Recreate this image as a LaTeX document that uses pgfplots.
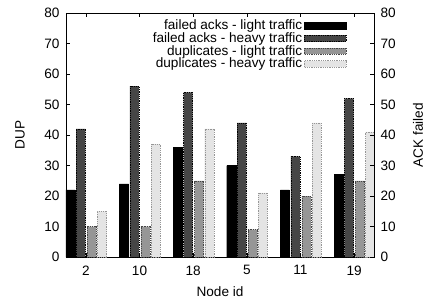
\documentclass[border=0pt]{standalone}
\usepackage{pgfplots}
\pgfplotsset{compat=1.18}
\usepackage{fontspec}
\setmainfont{Liberation Sans}
\definecolor{dk}{RGB}{70,70,70}
\definecolor{md}{RGB}{150,150,150}
\definecolor{lt}{RGB}{228,228,228}
\newcommand{\myfont}{\fontsize{13.6}{14}\selectfont}
\begin{document}
\begin{tikzpicture}
\pgfplotsset{
  mybar/.style={ybar, bar width=0.17,
    legend image code/.code={\draw[##1] (0pt,-3.3pt) rectangle (42pt,3.3pt);}},
}
\begin{axis}[
  name=main,
  scale only axis, width=308pt, height=244pt,
  xmin=-0.37, xmax=5.37, ymin=0, ymax=80,
  xtick={0,1,2,3,4,5}, xticklabels={2,10,18,5,11,19},
  ytick={0,10,...,80},
  tick align=inside, xtick pos=both, ytick pos=left,
  major tick length=4pt,
  tick style={black, line width=0.6pt},
  axis line style={line width=0.8pt},
  /pgf/number format/assume math mode=true,
  tick label style={font=\myfont},
  label style={font=\myfont},
  xticklabel style={yshift=-5pt},
  yticklabel style={xshift=-3pt},
  xlabel={Node id}, ylabel={DUP},
  xlabel style={at={(axis description cs:0.5,0)}, anchor=center, yshift=-35pt},
  ylabel style={at={(axis description cs:0,0.5)}, anchor=center, yshift=46pt},
  legend plot pos=right,
  legend cell align=right,
  legend style={draw=none, fill=none, at={(0.915,0.985)}, anchor=north east,
    font=\myfont, row sep=-2.6pt, inner sep=1pt},
]
\addplot[mybar, bar shift=-0.29, fill=black, draw=black] coordinates {(0,22) (1,24) (2,36) (3,30) (4,22) (5,27)};
\addlegendentry{failed acks - light traffic}
\addplot[mybar, bar shift=-0.095, fill=dk, draw=black, dash pattern=on 1pt off 0.8pt] coordinates {(0,42) (1,56) (2,54) (3,44) (4,33) (5,52)};
\addlegendentry{failed acks - heavy traffic}
\addplot[mybar, bar shift=0.11, fill=md, draw=dk, dash pattern=on 1pt off 0.8pt] coordinates {(0,10) (1,10) (2,25) (3,9) (4,20) (5,25)};
\addlegendentry{duplicates - light traffic}
\addplot[mybar, bar shift=0.30, fill=lt, draw=md, dash pattern=on 1pt off 0.8pt] coordinates {(0,15) (1,37) (2,42) (3,21) (4,44) (5,41)};
\addlegendentry{duplicates - heavy traffic}
\end{axis}
\begin{axis}[
  scale only axis, width=308pt, height=244pt,
  xmin=-0.37, xmax=5.37, ymin=0, ymax=80,
  axis x line=none, axis y line*=right,
  ytick={0,10,...,80},
  tick align=inside, major tick length=4pt,
  tick style={black, line width=0.6pt},
  axis line style={line width=0.8pt},
  /pgf/number format/assume math mode=true,
  tick label style={font=\myfont},
  yticklabel style={xshift=3pt},
  label style={font=\myfont},
  ylabel={ACK failed},
  ylabel style={at={(axis description cs:1,0.5)}, anchor=center, yshift=-44pt},
]
\end{axis}
\pgfresetboundingbox
\path[use as bounding box] ([shift={(-66pt,-43pt)}]main.south west) rectangle ([shift={(359pt,257pt)}]main.south west);
\end{tikzpicture}
\end{document}
